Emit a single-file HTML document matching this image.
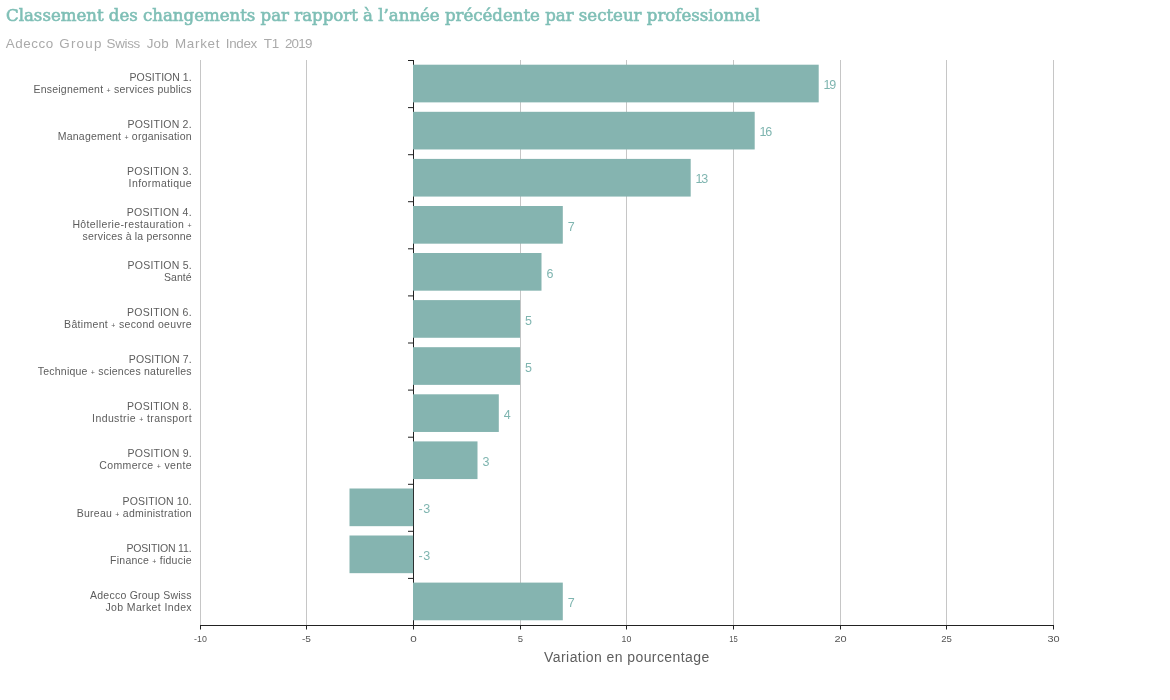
<!DOCTYPE html>
<html lang="fr"><head><meta charset="utf-8"><title>Classement des changements</title>
<style>
html,body{margin:0;padding:0;background:#fff;}
body{width:1170px;height:700px;overflow:hidden;position:relative;font-family:"Liberation Sans",sans-serif;}
svg{position:absolute;left:0;top:0;}
.title{font-family:"DejaVu Serif","Liberation Serif",serif;font-size:16.6px;fill:#7fbfb6;stroke:#7fbfb6;stroke-width:0.6px;}
.sub{font-size:13.4px;fill:#aaa;}
.lab{font-size:10.5px;fill:#5c5c5c;text-anchor:end;}
.pl{font-size:7px;}
.val{font-size:12.5px;fill:#7fb5b0;}
.tick{font-size:8.6px;fill:#555;text-anchor:middle;}
.axt{font-size:14px;fill:#5e5e5e;text-anchor:middle;}
</style></head><body>
<svg width="1170" height="700" viewBox="0 0 1170 700">
<rect width="1170" height="700" fill="#fff"/>
<text class="title" x="6" y="21" textLength="754">Classement des changements par rapport à l’année précédente par secteur professionnel</text>
<text class="sub" y="47.5"><tspan x="5.8" textLength="47.4">Adecco</tspan> <tspan x="59.2" textLength="42.3">Group</tspan> <tspan x="106.6" textLength="33.6">Swiss</tspan> <tspan x="146.7" textLength="22.0">Job</tspan> <tspan x="174.9" textLength="44.6">Market</tspan> <tspan x="225.7" textLength="31.6">Index</tspan> <tspan x="263.7" textLength="15.5">T1</tspan> <tspan x="284.9" textLength="27.6">2019</tspan></text>

<rect x="200" y="60" width="1" height="565" fill="#c6c6c6"/>
<rect x="306" y="60" width="1" height="565" fill="#c6c6c6"/>
<rect x="520" y="60" width="1" height="565" fill="#c6c6c6"/>
<rect x="626" y="60" width="1" height="565" fill="#c6c6c6"/>
<rect x="733" y="60" width="1" height="565" fill="#c6c6c6"/>
<rect x="840" y="60" width="1" height="565" fill="#c6c6c6"/>
<rect x="946" y="60" width="1" height="565" fill="#c6c6c6"/>
<rect x="1053" y="60" width="1" height="565" fill="#c6c6c6"/>
<rect x="413" y="60" width="1" height="565" fill="#222"/>
<rect x="408" y="60.0" width="6" height="1" fill="#222"/>
<rect x="408" y="107.1" width="6" height="1" fill="#222"/>
<rect x="408" y="154.2" width="6" height="1" fill="#222"/>
<rect x="408" y="201.2" width="6" height="1" fill="#222"/>
<rect x="408" y="248.3" width="6" height="1" fill="#222"/>
<rect x="408" y="295.4" width="6" height="1" fill="#222"/>
<rect x="408" y="342.5" width="6" height="1" fill="#222"/>
<rect x="408" y="389.6" width="6" height="1" fill="#222"/>
<rect x="408" y="436.7" width="6" height="1" fill="#222"/>
<rect x="408" y="483.8" width="6" height="1" fill="#222"/>
<rect x="408" y="530.8" width="6" height="1" fill="#222"/>
<rect x="408" y="577.9" width="6" height="1" fill="#222"/>
<rect x="413.0" y="64.7" width="405.7" height="37.67" fill="#85b4b0"/>
<rect x="413.0" y="111.8" width="341.7" height="37.67" fill="#85b4b0"/>
<rect x="413.0" y="158.9" width="277.7" height="37.67" fill="#85b4b0"/>
<rect x="413.0" y="206.0" width="149.8" height="37.67" fill="#85b4b0"/>
<rect x="413.0" y="253.0" width="128.5" height="37.67" fill="#85b4b0"/>
<rect x="413.0" y="300.1" width="107.1" height="37.67" fill="#85b4b0"/>
<rect x="413.0" y="347.2" width="107.1" height="37.67" fill="#85b4b0"/>
<rect x="413.0" y="394.3" width="85.8" height="37.67" fill="#85b4b0"/>
<rect x="413.0" y="441.4" width="64.5" height="37.67" fill="#85b4b0"/>
<rect x="349.5" y="488.5" width="63.6" height="37.67" fill="#85b4b0"/>
<rect x="349.5" y="535.5" width="63.6" height="37.67" fill="#85b4b0"/>
<rect x="413.0" y="582.6" width="149.8" height="37.67" fill="#85b4b0"/>
<text class="val" x="823.6" y="89.2" textLength="12.7">19</text>
<text class="lab" x="191.6" y="80.7" textLength="62.1">POSITION 1.</text>
<text class="lab" x="191.6" y="92.7" textLength="158.2">Enseignement <tspan class="pl">+</tspan> services publics</text>
<text class="val" x="759.6" y="136.3" textLength="12.7">16</text>
<text class="lab" x="191.6" y="127.8" textLength="64.1">POSITION 2.</text>
<text class="lab" x="191.6" y="139.8" textLength="133.9">Management <tspan class="pl">+</tspan> organisation</text>
<text class="val" x="695.6" y="183.4" textLength="12.5">13</text>
<text class="lab" x="191.6" y="174.9" textLength="64.6">POSITION 3.</text>
<text class="lab" x="191.6" y="186.9" textLength="63.0">Informatique</text>
<text class="val" x="567.7" y="230.5">7</text>
<text class="lab" x="191.6" y="216.0" textLength="64.9">POSITION 4.</text>
<text class="lab" x="191.6" y="228.0" textLength="119.2">Hôtellerie-restauration <tspan class="pl">+</tspan></text>
<text class="lab" x="191.6" y="240.0" textLength="109.0">services à la personne</text>
<text class="val" x="546.4" y="277.6">6</text>
<text class="lab" x="191.6" y="269.1" textLength="64.0">POSITION 5.</text>
<text class="lab" x="191.6" y="281.1" textLength="27.5">Santé</text>
<text class="val" x="525.0" y="324.7">5</text>
<text class="lab" x="191.6" y="316.2" textLength="64.6">POSITION 6.</text>
<text class="lab" x="191.6" y="328.2" textLength="127.5">Bâtiment <tspan class="pl">+</tspan> second oeuvre</text>
<text class="val" x="525.0" y="371.7">5</text>
<text class="lab" x="191.6" y="363.2" textLength="62.8">POSITION 7.</text>
<text class="lab" x="191.6" y="375.2" textLength="153.8">Technique <tspan class="pl">+</tspan> sciences naturelles</text>
<text class="val" x="503.7" y="418.8">4</text>
<text class="lab" x="191.6" y="410.3" textLength="64.6">POSITION 8.</text>
<text class="lab" x="191.6" y="422.3" textLength="99.5">Industrie <tspan class="pl">+</tspan> transport</text>
<text class="val" x="482.4" y="465.9">3</text>
<text class="lab" x="191.6" y="457.4" textLength="64.0">POSITION 9.</text>
<text class="lab" x="191.6" y="469.4" textLength="92.3">Commerce <tspan class="pl">+</tspan> vente</text>
<text class="val" x="418.4" y="513.0" textLength="11.7">-3</text>
<text class="lab" x="191.6" y="504.5" textLength="69.0">POSITION 10.</text>
<text class="lab" x="191.6" y="516.5" textLength="114.9">Bureau <tspan class="pl">+</tspan> administration</text>
<text class="val" x="418.4" y="560.1" textLength="11.7">-3</text>
<text class="lab" x="191.6" y="551.6" textLength="65.2">POSITION 11.</text>
<text class="lab" x="191.6" y="563.6" textLength="81.5">Finance <tspan class="pl">+</tspan> fiducie</text>
<text class="val" x="567.7" y="607.2">7</text>
<text class="lab" x="191.6" y="598.7" textLength="101.6">Adecco Group Swiss</text>
<text class="lab" x="191.6" y="610.7" textLength="86.2">Job Market Index</text>
<rect x="200" y="625" width="854" height="1" fill="#222"/>
<rect x="200" y="625" width="1" height="4.5" fill="#222"/>
<text class="tick" x="200.5" y="642" textLength="12.8" lengthAdjust="spacingAndGlyphs">-10</text>
<rect x="306" y="625" width="1" height="4.5" fill="#222"/>
<text class="tick" x="306.5" y="642" textLength="9" lengthAdjust="spacingAndGlyphs">-5</text>
<rect x="413" y="625" width="1" height="4.5" fill="#222"/>
<text class="tick" x="413.5" y="642" textLength="6.5" lengthAdjust="spacingAndGlyphs">0</text>
<rect x="520" y="625" width="1" height="4.5" fill="#222"/>
<text class="tick" x="520.5" y="642" textLength="5.3" lengthAdjust="spacingAndGlyphs">5</text>
<rect x="626" y="625" width="1" height="4.5" fill="#222"/>
<text class="tick" x="626.5" y="642" textLength="9.8" lengthAdjust="spacingAndGlyphs">10</text>
<rect x="733" y="625" width="1" height="4.5" fill="#222"/>
<text class="tick" x="733.5" y="642" textLength="8.5" lengthAdjust="spacingAndGlyphs">15</text>
<rect x="840" y="625" width="1" height="4.5" fill="#222"/>
<text class="tick" x="840.5" y="642" textLength="12.2" lengthAdjust="spacingAndGlyphs">20</text>
<rect x="946" y="625" width="1" height="4.5" fill="#222"/>
<text class="tick" x="946.5" y="642" textLength="10.7" lengthAdjust="spacingAndGlyphs">25</text>
<rect x="1053" y="625" width="1" height="4.5" fill="#222"/>
<text class="tick" x="1053.5" y="642" textLength="12.2" lengthAdjust="spacingAndGlyphs">30</text>
<text class="axt" x="626.7" y="661.6" textLength="165.3">Variation en pourcentage</text>
</svg></body></html>
